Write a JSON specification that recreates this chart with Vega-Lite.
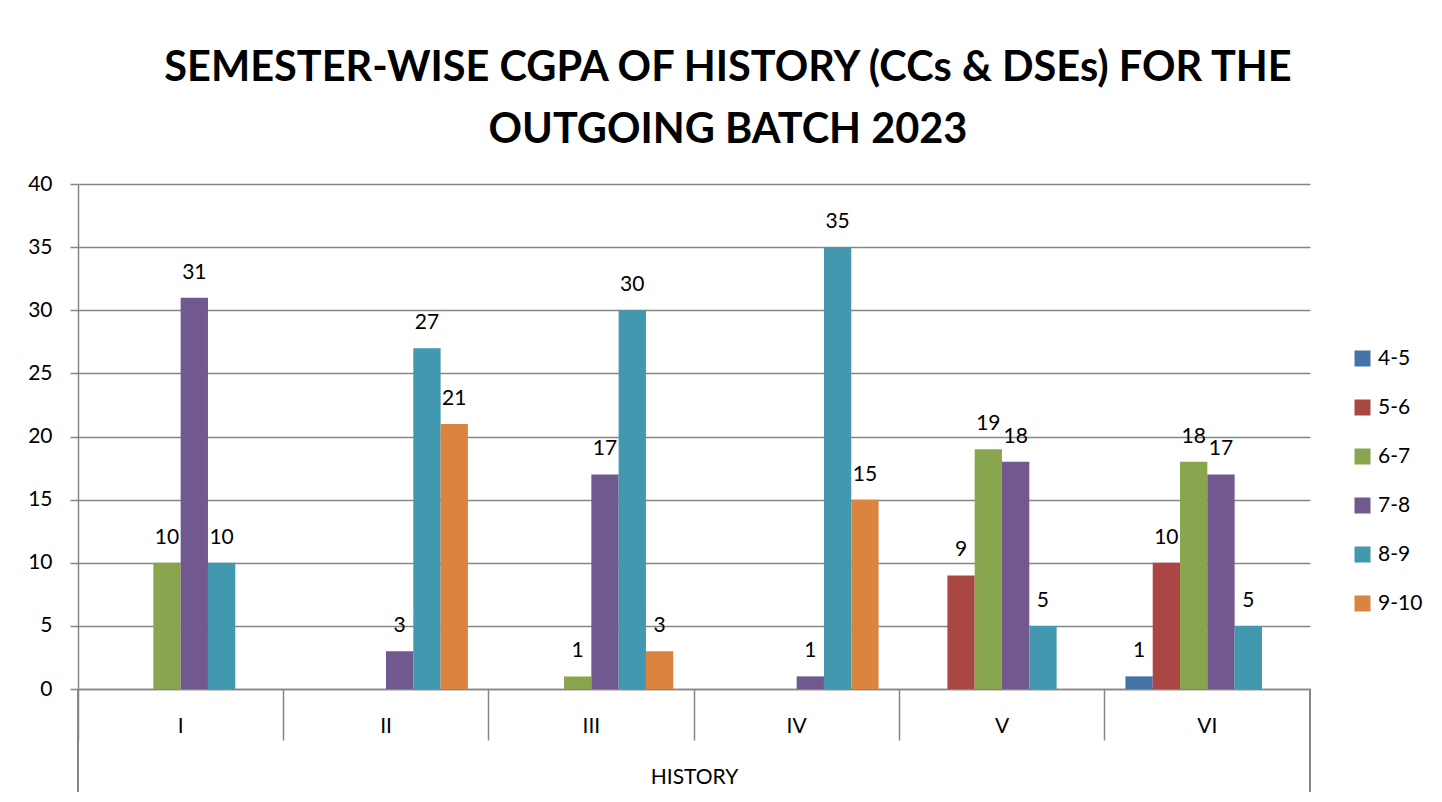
{
  "$schema": "https://vega.github.io/schema/vega-lite/v6.json",
  "width": 1232,
  "height": 505,
  "autosize": {"type": "none"},
  "padding": {"left": 78, "top": 184, "right": 132, "bottom": 113},
  "background": "white",
  "config": {
    "font": "Lato",
    "view": {"stroke": null}
  },
  "title": {
    "text": ["SEMESTER-WISE CGPA OF HISTORY (CCs & DSEs) FOR THE", "OUTGOING BATCH 2023"],
    "font": "Lato",
    "fontSize": 41.5,
    "fontWeight": "bold",
    "color": "#000000",
    "anchor": "middle",
    "frame": "group",
    "baseline": "alphabetic",
    "lineHeight": 62,
    "offset": -11,
    "dx": 34
  },
  "data": {
    "values": [
      {"semester": "I", "range": "6-7", "count": 10},
      {"semester": "I", "range": "7-8", "count": 31},
      {"semester": "I", "range": "8-9", "count": 10},
      {"semester": "II", "range": "7-8", "count": 3},
      {"semester": "II", "range": "8-9", "count": 27},
      {"semester": "II", "range": "9-10", "count": 21},
      {"semester": "III", "range": "6-7", "count": 1},
      {"semester": "III", "range": "7-8", "count": 17},
      {"semester": "III", "range": "8-9", "count": 30},
      {"semester": "III", "range": "9-10", "count": 3},
      {"semester": "IV", "range": "7-8", "count": 1},
      {"semester": "IV", "range": "8-9", "count": 35},
      {"semester": "IV", "range": "9-10", "count": 15},
      {"semester": "V", "range": "5-6", "count": 9},
      {"semester": "V", "range": "6-7", "count": 19},
      {"semester": "V", "range": "7-8", "count": 18},
      {"semester": "V", "range": "8-9", "count": 5},
      {"semester": "VI", "range": "4-5", "count": 1},
      {"semester": "VI", "range": "5-6", "count": 10},
      {"semester": "VI", "range": "6-7", "count": 18},
      {"semester": "VI", "range": "7-8", "count": 17},
      {"semester": "VI", "range": "8-9", "count": 5}
    ]
  },
  "encoding": {
    "x": {
      "field": "semester",
      "type": "nominal",
      "sort": ["I", "II", "III", "IV", "V", "VI"],
      "scale": {"domain": ["I", "II", "III", "IV", "V", "VI"], "paddingInner": 0, "paddingOuter": 0},
      "axis": {
        "title": "HISTORY",
        "labelAngle": 0,
        "labelFont": "Lato",
        "labelFontSize": 21,
        "labelColor": "#000000",
        "labelPadding": -25,
        "bandPosition": 0,
        "tickSize": 51,
        "tickColor": "#868686",
        "tickWidth": 1.5,
        "domainColor": "#868686",
        "domainWidth": 1.5,
        "titleFont": "Lato",
        "titleFontSize": 21,
        "titleFontWeight": "normal",
        "titleColor": "#000000",
        "titleBaseline": "alphabetic",
        "titleY": 94
      }
    },
    "xOffset": {
      "field": "range",
      "type": "nominal",
      "scale": {"domain": ["4-5", "5-6", "6-7", "7-8", "8-9", "9-10"], "paddingInner": 0, "paddingOuter": 0.76}
    },
    "y": {
      "field": "count",
      "type": "quantitative",
      "scale": {"domain": [0, 40], "nice": false, "zero": true},
      "axis": {
        "title": null,
        "values": [0, 5, 10, 15, 20, 25, 30, 35, 40],
        "labelFont": "Lato",
        "labelFontSize": 21,
        "labelColor": "#000000",
        "labelPadding": 18,
        "tickSize": 8,
        "tickColor": "#868686",
        "tickWidth": 1.5,
        "domainColor": "#868686",
        "domainWidth": 1.5,
        "gridColor": "#868686",
        "gridWidth": 1.5
      }
    }
  },
  "layer": [
    {
      "mark": {"type": "bar"},
      "encoding": {
        "color": {
          "field": "range",
          "type": "nominal",
          "scale": {
            "domain": ["4-5", "5-6", "6-7", "7-8", "8-9", "9-10"],
            "range": ["#4572A7", "#AA4643", "#89A54E", "#71588F", "#4198AF", "#DB843D"]
          },
          "legend": {
            "title": null,
            "orient": "none",
            "legendX": 1274,
            "legendY": 164,
            "symbolType": "square",
            "symbolSize": 256,
            "symbolStrokeWidth": 0,
            "labelFont": "Lato",
            "labelFontSize": 21,
            "labelColor": "#000000",
            "labelOffset": 5,
            "rowPadding": 27,
            "padding": 0
          }
        }
      }
    },
    {
      "mark": {"type": "text", "baseline": "alphabetic", "dy": -19, "font": "Lato", "fontSize": 21, "color": "#000000"},
      "encoding": {
        "text": {"field": "count", "type": "quantitative"}
      }
    },
    {
      "mark": {"type": "rule", "color": "#868686", "strokeWidth": 1.5},
      "encoding": {
        "x": {"datum": "I", "type": "nominal", "bandPosition": 0},
        "xOffset": null,
        "y": {"datum": 0, "type": "quantitative"},
        "y2": {"datum": -8.16}
      }
    },
    {
      "mark": {"type": "rule", "color": "#868686", "strokeWidth": 1.5},
      "encoding": {
        "x": {"datum": "VI", "type": "nominal", "bandPosition": 1},
        "xOffset": null,
        "y": {"datum": 0, "type": "quantitative"},
        "y2": {"datum": -8.16}
      }
    }
  ]
}
